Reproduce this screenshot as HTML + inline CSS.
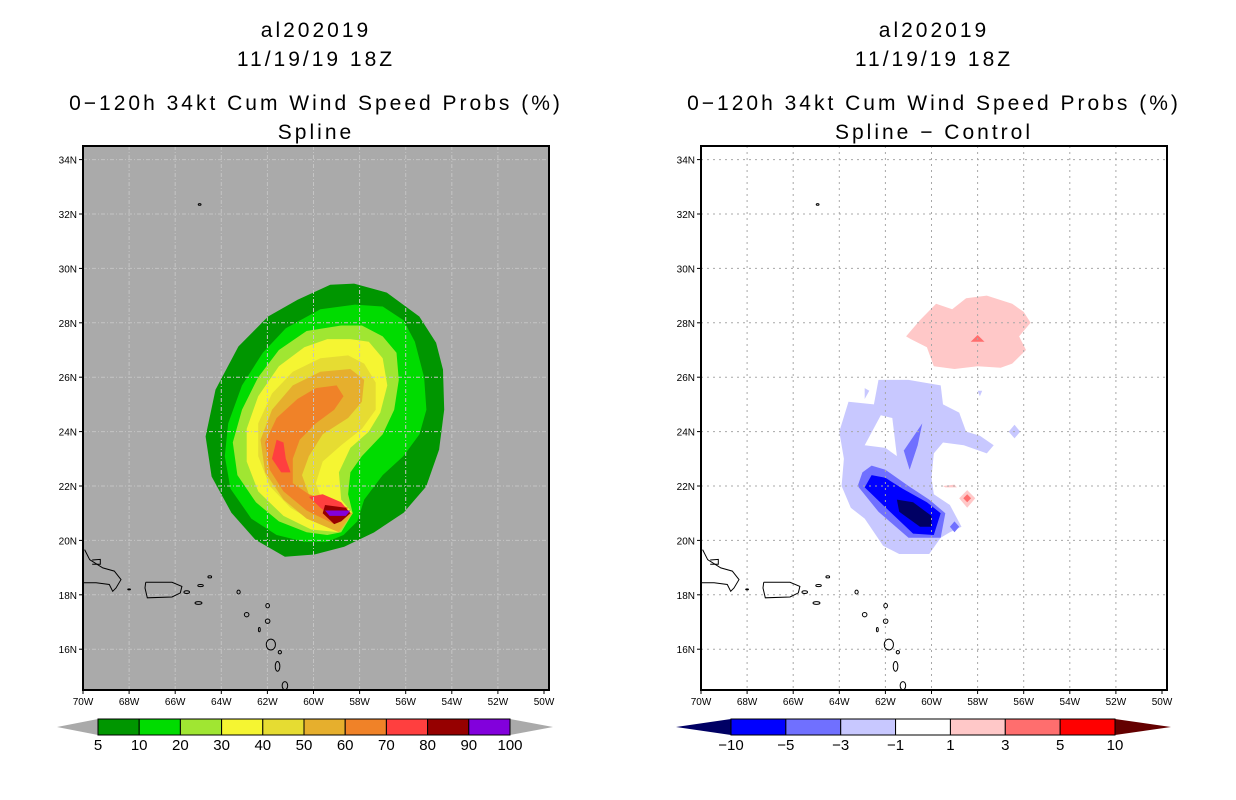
<!DOCTYPE html>
<html><head><meta charset="utf-8"><style>
body{margin:0;background:#fff;}
svg{display:block;font-family:"Liberation Sans",sans-serif;}
.t{font-size:21px;letter-spacing:3px;text-anchor:middle;fill:#000}
.tk{font-size:10px;fill:#000}
.cl{font-size:15px;text-anchor:middle;fill:#000}
</style></head><body>
<svg id="c" width="1236" height="800" viewBox="0 0 1236 800"></svg>
<script>
const lonTicks=[-70,-68,-66,-64,-62,-60,-58,-56,-54,-52,-50];
const latTicks=[16,18,20,22,24,26,28,30,32,34];
const leftLevels=['5','10','20','30','40','50','60','70','80','90','100'];
const leftColors=['#009600','#00dc00','#a0e632','#f5f532','#e6dc32','#e6af2d','#f08228','#ff3f3f','#960000','#8200dc'];
const rightLevels=['\u221210','\u22125','\u22123','\u22121','1','3','5','10'];
const rightColors=['#0000ff','#7070ff','#c8c8ff','#ffffff','#ffc8c8','#ff6e6e','#ff0000'];

const probContours=[
 {c:0,p:[[-59.27,29.4],[-58.24,29.44],[-56.82,29.11],[-55.41,28.23],[-54.68,27.27],[-54.38,26.28],[-54.33,24.81],[-54.55,23.34],[-55.11,21.98],[-56.09,21.02],[-57.38,20.29],[-58.67,19.77],[-59.96,19.48],[-61.24,19.4],[-62.53,20.03],[-63.56,21.02],[-64.42,22.35],[-64.68,23.82],[-64.25,25.54],[-63.26,27.13],[-61.97,28.23],[-60.69,28.85]]},
 {c:1,p:[[-58.2,28.67],[-57.0,28.6],[-56.1,28.1],[-55.6,27.3],[-55.2,26.0],[-55.1,24.8],[-55.4,23.9],[-56.1,23.1],[-57.0,22.4],[-57.8,21.5],[-58.1,20.7],[-58.7,20.2],[-59.4,19.95],[-60.4,19.95],[-61.6,20.2],[-62.7,20.8],[-63.6,21.9],[-63.85,23.1],[-63.7,24.3],[-63.1,25.7],[-62.2,26.9],[-61.2,27.8],[-59.7,28.5]]},
 {c:2,p:[[-58.8,27.9],[-57.9,27.9],[-57.0,27.5],[-56.4,26.9],[-56.3,25.9],[-56.5,24.8],[-57.0,23.9],[-57.9,23.1],[-58.4,22.5],[-58.5,21.7],[-58.3,21.0],[-58.8,20.3],[-59.4,20.2],[-60.3,20.3],[-61.5,20.7],[-62.5,21.4],[-63.3,22.4],[-63.5,23.6],[-63.1,24.8],[-62.4,26.0],[-61.5,27.0],[-60.3,27.7]]},
 {c:3,p:[[-58.4,27.4],[-57.6,27.3],[-57.0,26.7],[-56.8,25.7],[-57.1,24.7],[-57.6,24.0],[-58.4,23.4],[-58.9,22.5],[-58.8,21.5],[-58.3,21.0],[-58.9,20.3],[-60.1,20.4],[-61.3,20.9],[-62.4,21.8],[-62.9,22.9],[-62.9,24.1],[-62.4,25.3],[-61.5,26.4],[-60.4,27.1],[-59.4,27.4]]},
 {c:4,p:[[-58.5,26.8],[-57.8,26.5],[-57.3,25.8],[-57.3,24.8],[-57.9,24.1],[-58.8,23.5],[-59.6,22.9],[-59.9,22.1],[-59.6,21.4],[-58.3,21.0],[-58.9,20.3],[-60.0,20.7],[-61.0,21.2],[-61.9,22.0],[-62.4,23.1],[-62.4,24.3],[-61.8,25.4],[-60.9,26.2],[-59.7,26.7]]},
 {c:5,p:[[-58.4,26.3],[-57.8,25.9],[-57.9,25.1],[-58.5,24.5],[-59.6,23.9],[-60.2,23.1],[-60.5,22.4],[-60.2,21.7],[-59.4,21.4],[-58.3,21.0],[-58.9,20.3],[-60.3,20.8],[-61.3,21.5],[-62.1,22.5],[-62.3,23.7],[-61.8,24.8],[-60.9,25.7],[-59.7,26.2]]},
 {c:6,p:[[-59.0,25.7],[-58.7,25.3],[-59.1,24.8],[-59.9,24.3],[-60.6,23.7],[-60.9,23.0],[-60.9,22.1],[-60.2,21.7],[-58.5,21.2],[-59.1,20.6],[-60.3,21.1],[-61.3,21.8],[-61.9,22.6],[-62.1,23.6],[-61.6,24.5],[-60.7,25.2],[-59.9,25.6]]},
 {c:7,p:[[-61.6,23.7],[-61.3,23.6],[-61.2,23.0],[-61.0,22.5],[-61.4,22.5],[-61.8,23.0]]},
 {c:7,p:[[-60.2,21.6],[-59.6,21.7],[-58.8,21.4],[-58.4,21.0],[-58.9,20.7],[-59.7,21.2]]},
 {c:8,p:[[-59.5,21.3],[-58.6,21.2],[-58.4,21.0],[-58.8,20.7],[-59.1,20.6],[-59.6,21.0]]},
 {c:9,p:[[-59.5,21.1],[-58.4,21.1],[-58.6,20.9],[-59.3,20.9]]}
];
const diffContours=[
 {c:'#ffc8c8',p:[[-61.1,27.5],[-60.5,28.1],[-59.8,28.7],[-59.1,28.5],[-58.5,28.9],[-57.6,29.0],[-56.5,28.7],[-56.0,28.4],[-55.7,28.0],[-56.2,27.5],[-55.9,27.0],[-56.5,26.5],[-57.0,26.35],[-58.0,26.4],[-59.0,26.3],[-59.9,26.4],[-60.2,27.1],[-60.9,27.4]]},
 {c:'#ff6e6e',p:[[-58.0,27.55],[-57.7,27.3],[-58.3,27.3]]},
 {c:'#ffc8c8',p:[[-58.45,21.85],[-58.1,21.55],[-58.45,21.2],[-58.8,21.55]]},
 {c:'#ff6e6e',p:[[-58.45,21.7],[-58.28,21.55],[-58.45,21.4],[-58.62,21.55]]},
 {c:'#ffc8c8',p:[[-59.5,22.0],[-59.0,22.05],[-58.9,21.95],[-59.4,21.95]]},
 {c:'#c8c8ff',p:[[-62.3,25.9],[-61.0,25.9],[-59.6,25.7],[-59.5,25.0],[-58.8,24.7],[-58.5,24.0],[-57.9,23.85],[-57.3,23.5],[-57.6,23.2],[-58.6,23.5],[-59.5,23.6],[-59.9,23.2],[-60.0,22.3],[-59.9,21.7],[-59.2,21.3],[-58.7,20.5],[-59.2,20.3],[-59.6,20.1],[-60.1,19.5],[-61.4,19.5],[-62.1,19.8],[-62.9,20.8],[-63.5,21.2],[-63.9,22.0],[-63.8,23.0],[-64.0,24.0],[-63.6,25.1],[-62.5,25.0]]},
 {c:'#ffffff',p:[[-62.9,23.5],[-62.2,24.6],[-61.7,24.5],[-61.5,23.1],[-62.0,23.4]]},
 {c:'#c8c8ff',p:[[-62.9,25.6],[-62.7,25.5],[-62.9,25.2]]},
 {c:'#c8c8ff',p:[[-58.0,25.5],[-57.8,25.5],[-57.9,25.3]]},
 {c:'#c8c8ff',p:[[-56.4,24.25],[-56.15,24.0],[-56.4,23.75],[-56.65,24.0]]},
 {c:'#7070ff',p:[[-60.4,24.3],[-60.6,23.5],[-60.95,22.6],[-61.2,23.3]]},
 {c:'#7070ff',p:[[-62.6,22.75],[-63.0,22.5],[-63.2,22.0],[-62.3,21.05],[-61.0,20.1],[-59.6,20.1],[-59.4,21.0],[-60.1,21.5],[-61.0,22.0],[-62.0,22.6]]},
 {c:'#7070ff',p:[[-59.0,20.7],[-58.8,20.5],[-59.0,20.3],[-59.2,20.5]]},
 {c:'#0000ff',p:[[-62.6,22.4],[-62.9,21.95],[-61.8,21.05],[-60.8,20.25],[-59.9,20.2],[-59.6,21.0],[-60.2,21.4],[-61.25,21.9],[-62.0,22.3]]},
 {c:'#000064',p:[[-61.5,21.5],[-61.4,21.05],[-60.5,20.5],[-60.0,20.5],[-60.0,20.9],[-60.8,21.4]]}
];
const coastLines=[
 [[-69.93,19.66],[-69.71,19.29],[-69.14,18.99],[-68.64,18.87],[-68.35,18.56],[-68.57,18.25],[-68.71,18.13],[-68.86,18.38],[-69.43,18.44],[-70,18.44]],
 [[-69.6,19.28],[-69.25,19.3],[-69.25,19.12],[-69.6,19.12]],
 [[-67.28,18.46],[-66.14,18.46],[-65.71,18.31],[-65.78,18.07],[-66.14,17.92],[-67.21,17.89],[-67.31,18.25],[-67.28,18.46]]
];
const islands=[[-64.99,17.7,0.15,0.05],[-65.5,18.1,0.12,0.05],[-64.9,18.34,0.12,0.04],[-64.5,18.66,0.08,0.04],[-63.25,18.1,0.07,0.07],[-61.99,17.6,0.08,0.08],[-61.99,17.03,0.1,0.08],[-62.9,17.27,0.1,0.08],[-62.35,16.72,0.04,0.08],[-61.85,16.17,0.2,0.2],[-61.46,15.89,0.07,0.06],[-61.56,15.37,0.1,0.18],[-61.24,14.66,0.12,0.15],[-68.0,18.2,0.06,0.02],[-64.94,32.35,0.06,0.03]];

const NS='http://www.w3.org/2000/svg';
const svg=document.getElementById('c');
function mk(tag,attrs,parent,name,inter){const e=document.createElementNS(NS,tag);for(const k in attrs)e.setAttribute(k,attrs[k]);
 
 
 (parent||svg).appendChild(e);return e;}
function panel(x0,bg,gridCol,dash,contours,colorOf,title2,pname){
 const W=466,y0=146,H=544;
 const xs=lon=>x0+(lon+70)*23.05;
 const ys=lat=>y0+(34.5-lat)*27.2;
 const g=mk('g',{},svg,pname,false);
 const cx=x0+W/2;
 const t=[['al202019',30],['11/19/19 18Z',59],['0\u2212120h 34kt Cum Wind Speed Probs (%)',103],[title2,132]];
 t.forEach((s,i)=>{const e=mk('text',{x:cx,y:s[1]+7,class:'t'},g,'title-line-'+(i+1),false);e.textContent=s[0];});
 mk('rect',{x:x0,y:y0,width:W,height:H,fill:bg},g,'plot-background',false);
 const clip=mk('clipPath',{id:'cp'+x0},g,'plot-clip',false);
 mk('rect',{x:x0,y:y0,width:W,height:H},clip,'clip-rect',false);
 const cg=mk('g',{'clip-path':'url(#cp'+x0+')'},g,'contour-layer',false);
 contours.forEach((c,i)=>{const d='M'+c.p.map(q=>xs(q[0]).toFixed(1)+','+ys(q[1]).toFixed(1)).join('L')+'Z';
  mk('path',{d:d,fill:colorOf(c.c)},cg,'contour-fill-'+i,false);});
 lonTicks.forEach(l=>{if(l>-70&&l<-50)mk('line',{x1:xs(l),x2:xs(l),y1:y0,y2:y0+H,stroke:gridCol,'stroke-dasharray':dash},cg,'grid-lon',false);});
 latTicks.forEach(l=>mk('line',{x1:x0,x2:x0+W,y1:ys(l),y2:ys(l),stroke:gridCol,'stroke-dasharray':dash},cg,'grid-lat',false));
 coastLines.forEach(c=>mk('path',{d:'M'+c.map(q=>xs(q[0]).toFixed(1)+','+ys(q[1]).toFixed(1)).join('L'),fill:'none',stroke:'#000','stroke-width':1},cg,'coastline',false));
 islands.forEach(s=>mk('ellipse',{cx:xs(s[0]),cy:ys(s[1]),rx:s[2]*23,ry:s[3]*27.2,fill:'none',stroke:'#000','stroke-width':1},cg,'island',false));
 mk('rect',{x:x0,y:y0,width:W,height:H,fill:'none',stroke:'#000','stroke-width':2},g,'plot-frame',false);
 lonTicks.forEach(l=>{mk('line',{x1:xs(l),x2:xs(l),y1:y0+H,y2:y0+H+4,stroke:'#000'},g,'x-tick',false);
  const e=mk('text',{x:xs(l),y:y0+H+15,class:'tk','text-anchor':'middle'},g,'x-tick-label',false);e.textContent=(-l)+'W';});
 latTicks.forEach(l=>{mk('line',{x1:x0-4,x2:x0,y1:ys(l),y2:ys(l),stroke:'#000'},g,'y-tick',false);
  const e=mk('text',{x:x0-6,y:ys(l)+4,class:'tk','text-anchor':'end'},g,'y-tick-label',false);e.textContent=l+'N';});
}
panel(83,'#aaaaaa','#c4c4c4','4,2,1,2',probContours,c=>leftColors[c],'Spline','left-panel');
panel(701,'#ffffff','#a8a8a8','2,4',diffContours,c=>c,'Spline \u2212 Control','right-panel');

function colorbar(x0,x1,tipL,tipR,colors,labels,triL,triR,name){
 const g=mk('g',{},svg,name,false);
 const y0=719,y1=735,ym=727,w=(x1-x0)/colors.length;
 mk('path',{d:`M${x0},${y0}L${tipL},${ym}L${x0},${y1}Z`,fill:triL},g,'colorbar-low-arrow',false);
 mk('path',{d:`M${x1},${y0}L${tipR},${ym}L${x1},${y1}Z`,fill:triR},g,'colorbar-high-arrow',false);
 colors.forEach((c,i)=>mk('rect',{x:x0+i*w,y:y0,width:w,height:y1-y0,fill:c,stroke:'#000','stroke-width':1},g,'colorbar-box-'+i,false));
 labels.forEach((s,i)=>{const e=mk('text',{x:x0+i*w,y:750,class:'cl'},g,'colorbar-label',false);e.textContent=s;});
}
colorbar(98,510,57,553,leftColors,leftLevels,'#aaaaaa','#aaaaaa','left-colorbar');
colorbar(731,1115,676,1171,rightColors,rightLevels,'#000064','#640000','right-colorbar');
</script>
</body></html>
